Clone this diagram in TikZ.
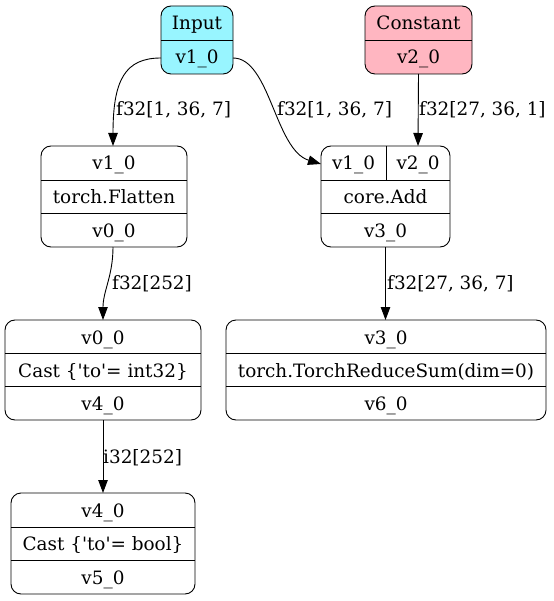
\documentclass[tikz,border=0pt]{standalone}
\usepackage{fontspec}
\setmainfont{DejaVu Serif}
\usetikzlibrary{arrows.meta,calc}
\newcommand{\gvfont}{\fontsize{18.4}{22}\selectfont}
\newcommand{\q}{\textquotesingle}
\begin{document}
\begin{tikzpicture}[x=1pt,y=-1pt,
  box/.style={draw, rounded corners=10pt, line width=0.9pt, inner sep=0pt, outer sep=0pt},
  txt/.style={anchor=base, inner sep=0pt, font=\gvfont},
  lbl/.style={anchor=base west, inner sep=0pt, font=\gvfont},
  edge/.style={-{Triangle[length=13pt,width=9.5pt]}, line width=0.9pt},
  sep/.style={line width=0.9pt}]
\useasboundingbox (0,0) rectangle (553,601);

% Input
\node[box, fill={rgb,255:red,152;green,245;blue,255}, minimum width=72pt, minimum height=68pt] (in) at (197,40) {};
\draw[sep] (in.west |- 0,40) -- (in.east |- 0,40);
\node[txt] (inA) at (197,30) {Input};
\node[txt] (inB) at (197,64) {v1\_0};

% Constant
\node[box, fill={rgb,255:red,255;green,182;blue,193}, minimum width=107pt, minimum height=68pt] (co) at (418.5,40) {};
\draw[sep] (co.west |- 0,40) -- (co.east |- 0,40);
\node[txt] (coA) at (418.5,30) {Constant};
\node[txt] (coB) at (418.5,64) {v2\_0};

% Flatten
\node[box, minimum width=146pt, minimum height=101pt] (fl) at (114,196.5) {};
\draw[sep] (fl.west |- 0,180) -- (fl.east |- 0,180);
\draw[sep] (fl.west |- 0,213) -- (fl.east |- 0,213);
\node[txt] (flA) at (114,170) {v1\_0};
\node[txt] (flB) at (114,203.5) {torch.Flatten};
\node[txt] (flC) at (114,237) {v0\_0};

% Add
\node[box, minimum width=129pt, minimum height=101pt] (ad) at (385.5,196.5) {};
\draw[sep] (ad.west |- 0,180) -- (ad.east |- 0,180);
\draw[sep] (ad.west |- 0,213) -- (ad.east |- 0,213);
\draw[sep] (ad.north -| 386,0) -- (386,180);
\node[txt] (adA) at (353.5,170) {v1\_0};
\node[txt] (adB) at (418,170) {v2\_0};
\node[txt] (adC) at (385.5,203.5) {core.Add};
\node[txt] (adD) at (385.5,237) {v3\_0};

% Cast int32
\node[box, minimum width=196pt, minimum height=100pt] (ci) at (103,370) {};
\draw[sep] (ci.west |- 0,353.5) -- (ci.east |- 0,353.5);
\draw[sep] (ci.west |- 0,386.5) -- (ci.east |- 0,386.5);
\node[txt] (ciA) at (103,344) {v0\_0};
\node[txt] (ciB) at (103,377) {Cast \{\q to\q= int32\}};
\node[txt] (ciC) at (103,410) {v4\_0};

% ReduceSum
\node[box, minimum width=320pt, minimum height=100pt] (rs) at (386,370) {};
\draw[sep] (rs.west |- 0,353.5) -- (rs.east |- 0,353.5);
\draw[sep] (rs.west |- 0,386.5) -- (rs.east |- 0,386.5);
\node[txt] (rsA) at (386,344) {v3\_0};
\node[txt] (rsB) at (386,377) {torch.TorchReduceSum(dim=0)};
\node[txt] (rsC) at (386,410) {v6\_0};

% Cast bool
\node[box, minimum width=184pt, minimum height=101pt] (cb) at (103,543.5) {};
\draw[sep] (cb.west |- 0,527) -- (cb.east |- 0,527);
\draw[sep] (cb.west |- 0,560) -- (cb.east |- 0,560);
\node[txt] (cbA) at (103,517) {v4\_0};
\node[txt] (cbB) at (103,550.5) {Cast \{\q to\q= bool\}};
\node[txt] (cbC) at (103,584) {v5\_0};

% edges
\coordinate (e1s) at (in.west |- 0,58);
\coordinate (e1t) at ($(fl.north)+(-1,0)$);
\draw[edge] (e1s) .. controls (125,58) and (113,80) .. (e1t);
\coordinate (e2s) at (in.east |- 0,58);
\coordinate (e2t) at (ad.west |- 0,164);
\draw[edge] (e2s) .. controls (270,58) and (275,150) .. (e2t);
\coordinate (e3s) at (co.south);
\coordinate (e3t) at (ad.north -| 418,0);
\draw[edge] (e3s) -- (e3t);
\coordinate (e4s) at ($(fl.south)+(-1,0)$);
\draw[edge] (e4s) to[out=-90,in=90] (ci.north);
\draw[edge] (ad.south) -- (rs.north -| ad.south);
\draw[edge] (ci.south) -- (cb.north);

% labels
\node[lbl] (l1) at (116,116) {f32[1, 36, 7]};
\node[lbl] (l2) at (277,116) {f32[1, 36, 7]};
\node[lbl] (l3) at (419,116) {f32[27, 36, 1]};
\node[lbl] (l4) at (112,289) {f32[252]};
\node[lbl] (l5) at (387,289) {f32[27, 36, 7]};
\node[lbl] (l6) at (103,463) {i32[252]};
\end{tikzpicture}
\end{document}
